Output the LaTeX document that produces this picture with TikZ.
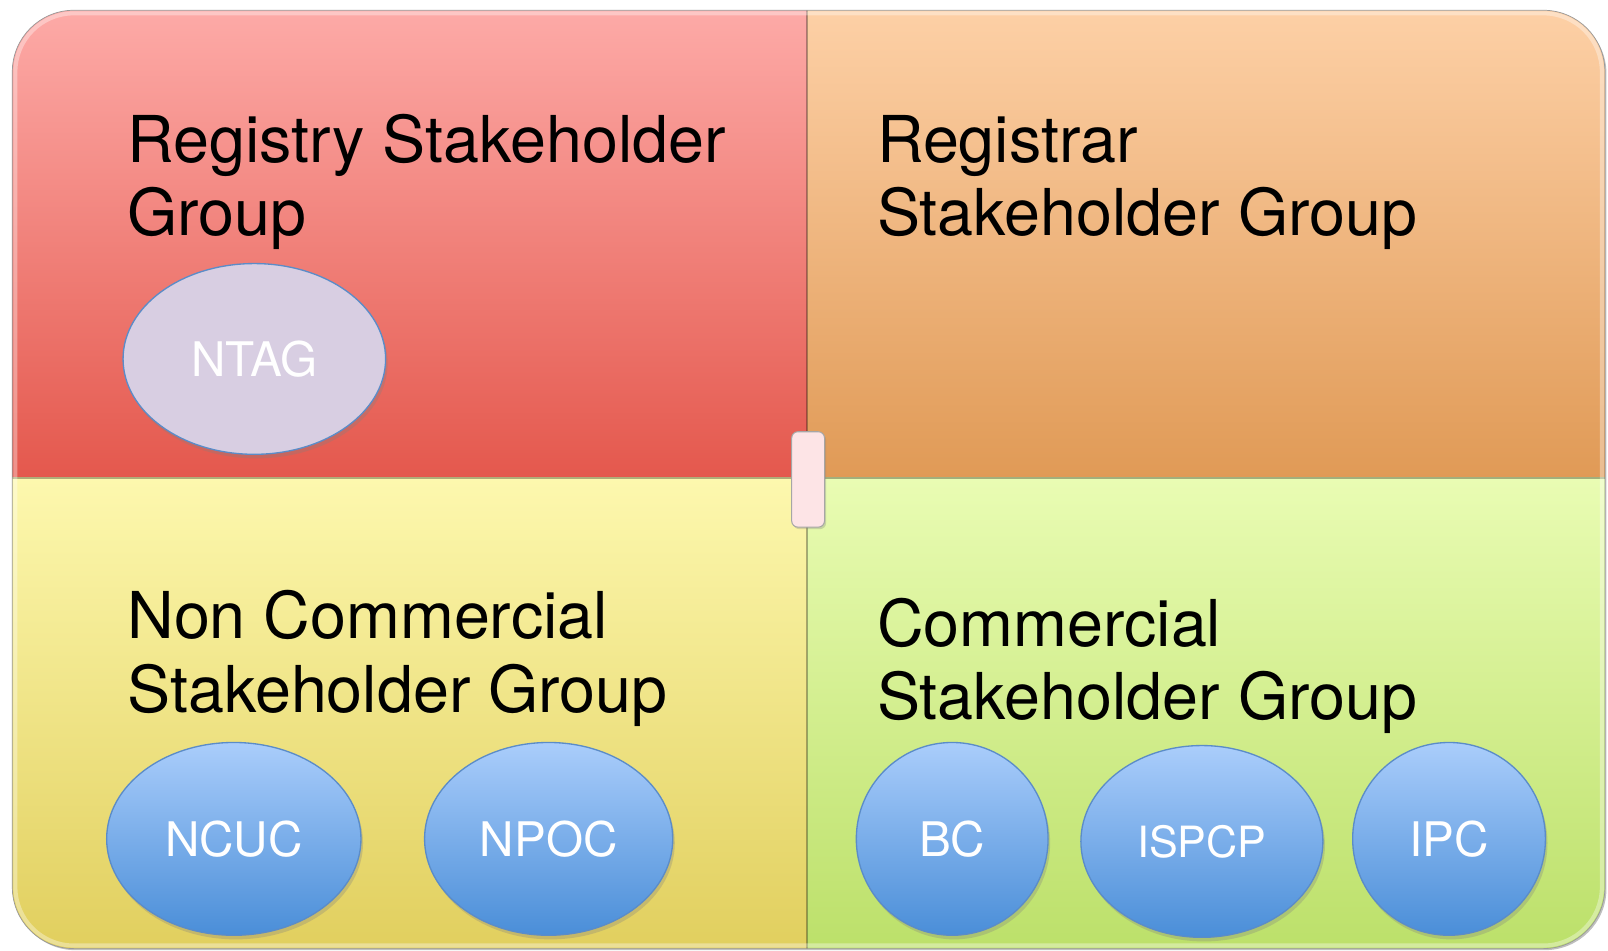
\documentclass[tikz,border=0pt]{standalone}
\usepackage{fontspec}
\setmainfont{TeX Gyre Heros}
\usetikzlibrary{shapes.geometric,shadows}
\definecolor{tlTop}{HTML}{FDAAA7}
\definecolor{tlBot}{HTML}{E4584D}
\definecolor{trTop}{HTML}{FDD0A6}
\definecolor{trBot}{HTML}{E09A56}
\definecolor{blTop}{HTML}{FDF8AE}
\definecolor{blBot}{HTML}{E1CF5E}
\definecolor{brTop}{HTML}{E9FCB3}
\definecolor{brBot}{HTML}{BCE06A}
\definecolor{blueTop}{HTML}{AACDFB}
\definecolor{blueBot}{HTML}{4A8ED8}
\definecolor{blueEdge}{HTML}{5B8CC8}
\definecolor{ntagFill}{HTML}{D8CEE2}
\definecolor{pinkFill}{HTML}{FDE4E6}
\tikzset{
  grouplabel/.style={anchor=base west, align=left, inner sep=0pt, text=black,
    font=\fontsize{63}{72}\selectfont},
  bubble/.style={ellipse, draw=blueEdge, line width=1.3pt, top color=blueTop,
    bottom color=blueBot, text=white, inner sep=0pt,
    font=\fontsize{46.5}{46.5}\selectfont,
    drop shadow={opacity=0.3, shadow xshift=2pt, shadow yshift=-4pt}},
  divider/.style={line width=1.6pt, draw=black, opacity=0.3},
}
\begin{document}
\begin{tikzpicture}[x=1pt,y=-1pt]
\useasboundingbox (0,0) rectangle (1568,926.4);
% outer shadow
\fill[black, opacity=0.25, rounded corners=60pt] (13.5,12) rectangle (1566.5,926.5);
\begin{scope}
  \clip[rounded corners=60pt] (12,10) rectangle (1565,925);
  \shade[top color=tlTop, bottom color=tlBot] (12,10) rectangle (787,466);
  \shade[top color=trTop, bottom color=trBot] (787,10) rectangle (1565,466);
  \shade[top color=blTop, bottom color=blBot] (12,466) rectangle (787,925);
  \shade[top color=brTop, bottom color=brBot] (787,466) rectangle (1565,925);
  \draw[divider] (787,10) -- (787,925);
  \draw[divider] (12,466) -- (1565,466);
  \draw[white, opacity=0.35, line width=4pt, rounded corners=57pt] (15,13) rectangle (1562,922);
\end{scope}
\draw[black!40, line width=0.7pt, rounded corners=60pt] (12,10) rectangle (1565,925);

% centre tab
\node[rectangle, rounded corners=6pt, fill=pinkFill, draw=black!35, line width=1pt,
  minimum width=32pt, minimum height=93pt, inner sep=0pt,
  drop shadow={opacity=0.3, shadow xshift=1.5pt, shadow yshift=-2pt}] (tab) at (788,467.5) {};

% group labels (anchored at the baseline of the last line)
\node[grouplabel] (rysg) at (124,230) {Registry Stakeholder\\Group};
\node[grouplabel] (rrsg) at (855,230) {Registrar\\Stakeholder Group};
\node[grouplabel] (ncsg) at (124,695) {Non Commercial\\Stakeholder Group};
\node[grouplabel] (csg) at (855,702) {Commercial\\Stakeholder Group};

% constituencies
\node[bubble, shading=none, top color=ntagFill, bottom color=ntagFill,
  minimum width=256pt, minimum height=186pt] (ntag) at (248,350) {NTAG};
\node[bubble, minimum width=248pt, minimum height=188pt] (ncuc) at (228,818) {NCUC};
\node[bubble, minimum width=242pt, minimum height=188pt] (npoc) at (535,818) {NPOC};
\node[bubble, minimum width=187pt, minimum height=188pt] (bc) at (928.5,818) {BC};
\node[bubble, minimum width=236pt, minimum height=187pt,
  font=\fontsize{42}{42}\selectfont] (ispcp) at (1172,820.5) {ISPCP};
\node[bubble, minimum width=188pt, minimum height=188pt] (ipc) at (1413,818) {IPC};
\end{tikzpicture}
\end{document}
